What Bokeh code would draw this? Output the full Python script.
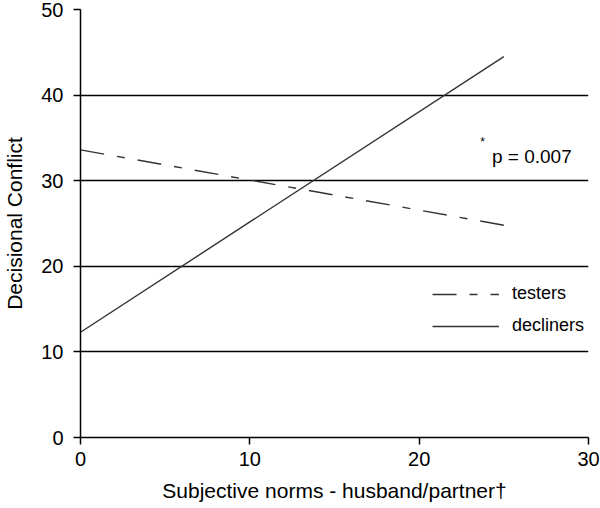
from bokeh.plotting import figure
from bokeh.models import Range1d, Legend, LegendItem, Label, FixedTicker
from bokeh.embed import file_html
from bokeh.resources import INLINE

# Data
x_vals = [0, 25]
testers = [33.6, 24.8]
decliners = [12.3, 44.5]
x_ticks = [0, 10, 20, 30]
y_ticks = [0, 10, 20, 30, 40, 50]
series_names = ["testers", "decliners"]
p_text = "p = 0.007"

FONT = "Liberation Sans"

p = figure(width=600, height=508, output_backend="svg", toolbar_location=None,
           x_range=Range1d(0, 30), y_range=Range1d(0, 50),
           min_border_left=76, min_border_right=12, min_border_top=9,
           min_border_bottom=71)
p.styles = {"position": "absolute", "top": "0px", "left": "0px"}
p.outline_line_color = None
p.background_fill_color = "white"
p.border_fill_color = "white"

p.xgrid.visible = False
p.ygrid.ticker = FixedTicker(ticks=y_ticks)
p.ygrid.grid_line_color = "black"
p.ygrid.grid_line_width = 1.5

for ax in (p.xaxis[0], p.yaxis[0]):
    ax.axis_line_color = "black"
    ax.axis_line_width = 1.5
    ax.major_tick_line_color = "black"
    ax.major_tick_line_width = 1.5
    ax.major_tick_in = 0
    ax.major_tick_out = 7
    ax.minor_tick_line_color = None
    ax.major_label_text_font = FONT
    ax.major_label_text_font_size = "20px"
    ax.major_label_text_color = "black"
    ax.axis_label_text_font = FONT
    ax.axis_label_text_font_size = "21px"
    ax.axis_label_text_font_style = "normal"
    ax.axis_label_text_color = "black"

p.xaxis.ticker = FixedTicker(ticks=x_ticks)
p.yaxis.ticker = FixedTicker(ticks=y_ticks)
p.xaxis.bounds = (0, 30)
p.yaxis.bounds = (0, 50)
p.xaxis.major_label_standoff = 7
p.yaxis.major_label_standoff = 10
p.xaxis.axis_label = "Subjective norms - husband/partner\u2020"
p.yaxis.axis_label = "Decisional Conflict"
p.xaxis.axis_label_standoff = 10
p.yaxis.axis_label_standoff = 12

r1 = p.line(x_vals, testers, line_color="#333333", line_width=1.4,
            line_dash="24 13 8 13")
r2 = p.line(x_vals, decliners, line_color="#333333", line_width=1.4)

legend = Legend(items=[LegendItem(label=series_names[0], renderers=[r1]),
                       LegendItem(label=series_names[1], renderers=[r2])],
                location=(352, 101), padding=0, margin=0,
                glyph_width=67, glyph_height=20, label_height=20,
                spacing=11, label_standoff=13,
                border_line_alpha=0, background_fill_alpha=0,
                label_text_font=FONT, label_text_font_size="18px",
                label_text_color="black")
p.add_layout(legend)

p.add_layout(Label(x=24.3, y=32.8, text=p_text, text_font=FONT,
                   text_font_size="19px", text_color="black",
                   text_baseline="alphabetic"))
p.add_layout(Label(x=23.6, y=35.3, text="*", text_font=FONT,
                   text_font_size="12px", text_color="black",
                   text_baseline="top"))

open("out.html", "w").write(file_html(p, INLINE))
